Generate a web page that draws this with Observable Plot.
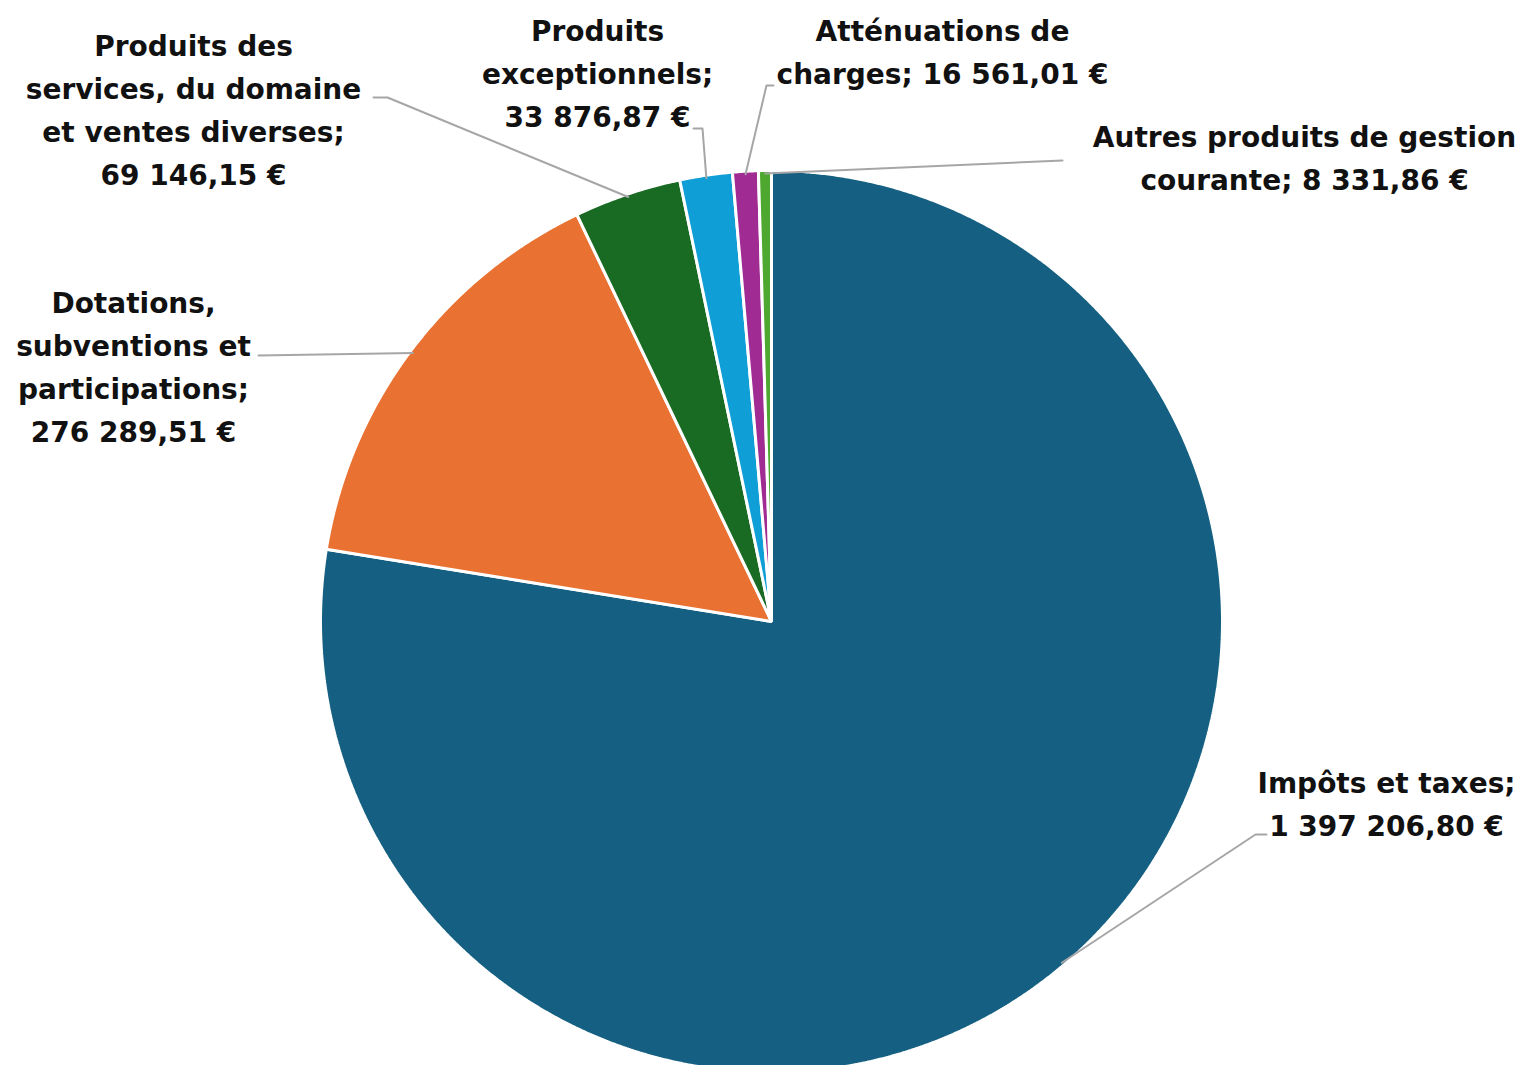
<!DOCTYPE html>
<html>
<head>
<meta charset="utf-8">
<script src="https://cdn.jsdelivr.net/npm/d3@7"></script>
<script src="https://cdn.jsdelivr.net/npm/@observablehq/plot@0.6"></script>
<style>
  html, body { margin: 0; padding: 0; background: #fff; overflow: hidden; }
</style>
</head>
<body>
<div id="chart"></div>
<script>
// ---- Data ----
const categories = [
  "Impôts et taxes",
  "Dotations, subventions et participations",
  "Produits des services, du domaine et ventes diverses",
  "Produits exceptionnels",
  "Atténuations de charges",
  "Autres produits de gestion courante"
];
const values = [1397206.80, 276289.51, 69146.15, 33876.87, 16561.01, 8331.86];
const colors = ["#156082", "#E97132", "#196B24", "#0F9ED5", "#A02B93", "#4EA72E"];

// ---- Layout (positions only) ----
const W = 1521, H = 1065;
const cx = 771, cy = 621, R = 451;
// words per line for each label
const lineBreaks = [[3, 1], [1, 2, 1, 1], [2, 3, 3, 1], [1, 1, 1], [2, 2], [4, 2]];
// label block anchors (middle)
const labelPos = [[1386, 800], [133, 363], [193, 106], [597, 70], [942, 48], [1304, 154]];
// leader start points (label side), and elbows
const leaderStart = [[1266, 834], [258, 355], [373, 97], [693, 128], [773, 85], [1062, 160]];
const leaderElbow = [[1255, 834], null, [387, 97], [702, 128], [766, 85], null];

// ---- Build ----
const fr = d3.formatLocale({decimal: ",", thousands: "\u00a0", grouping: [3], currency: ["", "\u00a0€"]});
const fmt = fr.format("$,.2f");

const data = categories.map((name, i) => ({name, value: values[i]}));
const arcs = d3.pie().sort(null).value(d => d.value)(data);

const slicePts = [];
arcs.forEach(a => {
  slicePts.push({slice: a.data.name, x: cx, y: cy});
  const n = Math.max(2, Math.ceil((a.endAngle - a.startAngle) / (Math.PI / 720)));
  for (let k = 0; k <= n; k++) {
    const t = a.startAngle + (a.endAngle - a.startAngle) * k / n;
    slicePts.push({slice: a.data.name, x: cx + R * Math.sin(t), y: cy - R * Math.cos(t)});
  }
});

const labels = arcs.map((a, i) => {
  const words = (a.data.name + "; " + fmt(a.data.value)).split(" ");
  const lines = [];
  let p = 0;
  for (const c of lineBreaks[i]) { lines.push(words.slice(p, p + c).join(" ")); p += c; }
  return {text: lines.join("\n"), x: labelPos[i][0], y: labelPos[i][1]};
});

const leaders = [];
arcs.forEach((a, i) => {
  const mid = (a.startAngle + a.endAngle) / 2;
  leaders.push({id: i, x: leaderStart[i][0], y: leaderStart[i][1]});
  if (leaderElbow[i]) leaders.push({id: i, x: leaderElbow[i][0], y: leaderElbow[i][1]});
  leaders.push({id: i, x: cx + (R - 3) * Math.sin(mid), y: cy - (R - 3) * Math.cos(mid)});
});

const chart = Plot.plot({
  width: W,
  height: H,
  margin: 0,
  x: {domain: [0, W], range: [0, W], axis: null},
  y: {domain: [0, H], range: [0, H], axis: null},
  color: {domain: categories, range: colors},
  style: {fontFamily: "'DejaVu Sans', sans-serif", background: "#fff"},
  marks: [
    Plot.line(slicePts, {x: "x", y: "y", z: "slice", fill: "slice", stroke: "white", strokeWidth: 3, curve: "linear-closed", strokeLinejoin: "miter"}),
    Plot.line(leaders, {x: "x", y: "y", z: "id", stroke: "#a6a6a6", strokeWidth: 2}),
    Plot.text(labels, {x: "x", y: "y", text: "text", fontSize: 28, fontWeight: "bold", fill: "#111", lineHeight: 1.536, lineAnchor: "middle", textAnchor: "middle"})
  ]
});
document.getElementById("chart").appendChild(chart);
</script>
</body>
</html>
